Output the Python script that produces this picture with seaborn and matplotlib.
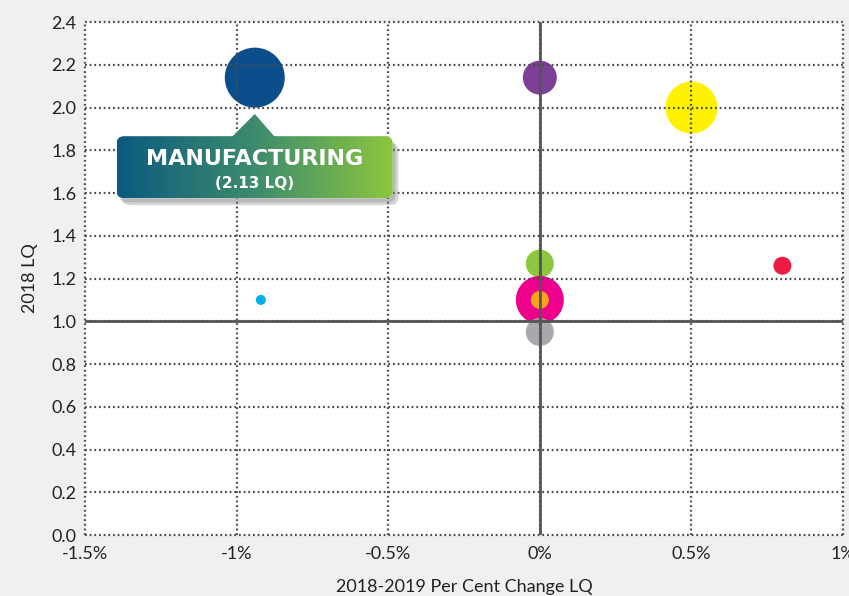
import numpy as np
import pandas as pd
import matplotlib.pyplot as plt
import matplotlib.patheffects as pe
from matplotlib.patches import FancyBboxPatch, PathPatch
from matplotlib.path import Path
from matplotlib.colors import LinearSegmentedColormap
import seaborn as sns

# data
sectors = ["Manufacturing", "Sector 2", "Sector 3", "Sector 4", "Sector 5",
           "Sector 6", "Sector 7", "Sector 8", "Sector 9"]
pct_change = [-0.94, 0.0, 0.5, 0.8, -0.92, 0.0, 0.0, 0.0, 0.0]
lq_2018 = [2.14, 2.14, 2.0, 1.26, 1.1, 1.27, 1.1, 1.1, 0.95]
bubble = [900, 289, 676, 81, 25, 196, 576, 81, 196]
colors = ["#0a4f8c", "#7e3f98", "#fff200", "#ed1c45", "#00aeef",
          "#8dc63f", "#ec008c", "#f9a51b", "#a7a9ac"]

x_ticks = [-1.5, -1.0, -0.5, 0.0, 0.5, 1.0]
x_labels = ["-1.5%", "-1%", "-0.5%", "0%", "0.5%", "1%"]
y_ticks = [0.0, 0.2, 0.4, 0.6, 0.8, 1.0, 1.2, 1.4, 1.6, 1.8, 2.0, 2.2, 2.4]

df = pd.DataFrame({"sector": sectors, "change": pct_change,
                   "lq": lq_2018, "bubble": bubble})

sns.set_style("white")
plt.rcParams['font.family'] = ['Lato', 'DejaVu Sans']

fig = plt.figure(figsize=(8.49, 5.96), dpi=100, facecolor="#eef0f2")
ax = fig.add_axes([0.1001, 0.1023, 0.8929, 0.8607])
ax.set_facecolor("white")

sns.scatterplot(data=df, x="change", y="lq", hue="sector", size="bubble",
                palette=dict(zip(sectors, colors)), sizes=(52, 1866),
                size_norm=(25, 900), linewidth=0, alpha=1, legend=False,
                ax=ax, zorder=1)

ax.set_xlim(-1.5, 1.0)
ax.set_ylim(0, 2.4)
ax.set_xticks(x_ticks)
ax.set_xticklabels(x_labels)
ax.set_yticks(y_ticks)
ax.set_yticklabels([f"{v:.1f}" for v in y_ticks])
ax.tick_params(length=0, labelsize=13, colors="#222222")
ax.tick_params(axis="x", pad=8)
ax.tick_params(axis="y", pad=6)

for s in ax.spines.values():
    s.set_visible(False)
ax.grid(True, linestyle=(0, (0.8, 1.3)), linewidth=1.6, color="#4a4a4a", zorder=2.5)
ax.set_axisbelow(False)
for gl in ax.get_xgridlines() + ax.get_ygridlines():
    gl.set_clip_on(False)

ax.axvline(0, color="#555555", lw=2, zorder=3)
ax.axhline(1, color="#555555", lw=2, zorder=3)

ax.set_xlabel("2018-2019 Per Cent Change LQ", fontsize=13, color="#222222", labelpad=12)
ax.set_ylabel("2018 LQ", fontsize=13, color="#222222", labelpad=10)

# callout for manufacturing
bx0, bx1, by0, by1 = -1.396, -0.485, 1.576, 1.866
tip_x, tip_y = pct_change[0], 1.97
box = FancyBboxPatch((bx0, by0), bx1 - bx0, by1 - by0,
                     boxstyle="round,pad=0,rounding_size=0.025",
                     mutation_aspect=1.42)
tri = Path([(tip_x - 0.08, by1 - 0.01), (tip_x + 0.07, by1 - 0.01),
            (tip_x, tip_y), (tip_x - 0.08, by1 - 0.01)],
           [Path.MOVETO, Path.LINETO, Path.LINETO, Path.CLOSEPOLY])
shape = Path.make_compound_path(box.get_path(), tri)
patch = PathPatch(shape, facecolor="white", edgecolor="none", zorder=5,
                  transform=ax.transData,
                  path_effects=[pe.SimplePatchShadow(offset=(4, -5), shadow_rgbFace="#777777", alpha=0.3),
                                pe.SimplePatchShadow(offset=(2, -3), shadow_rgbFace="#777777", alpha=0.3),
                                pe.Normal()])
ax.add_patch(patch)
cmap = LinearSegmentedColormap.from_list("callout", ["#0b5a80", "#3d8c6c", "#8dc63f"])
im = ax.imshow(np.linspace(0, 1, 256).reshape(1, -1), extent=(bx0, bx1, by0, tip_y),
               aspect="auto", cmap=cmap, zorder=6, interpolation="bilinear")
im.set_clip_path(patch)
ax.text(-0.94, 1.757, "MANUFACTURING", color="white", fontsize=16, fontweight="bold",
        family="DejaVu Sans", ha="center", va="center", zorder=7)
ax.text(-0.94, 1.645, "(2.13 LQ)", color="white", fontsize=11, fontweight="bold",
        family="DejaVu Sans", ha="center", va="center", zorder=7)

ax.set_xlim(-1.5, 1.0)
ax.set_ylim(0, 2.4)

fig.savefig("out.png", dpi=100, facecolor=fig.get_facecolor())
